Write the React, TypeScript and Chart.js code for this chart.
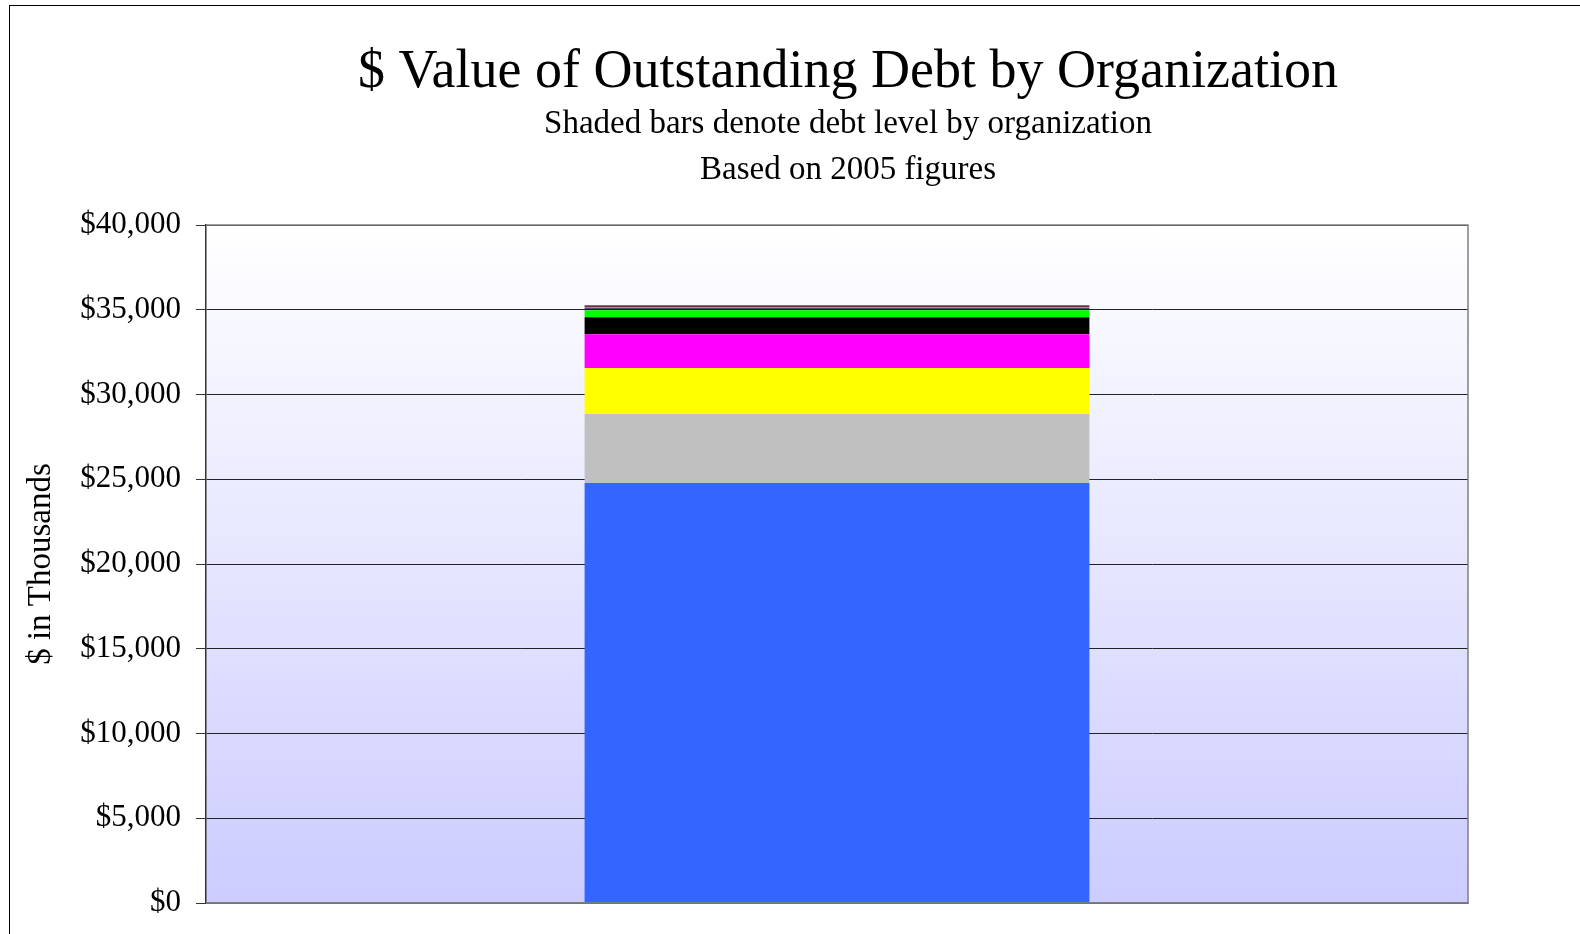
import React, { useEffect, useRef } from "react";
import { Chart, registerables } from "chart.js";

Chart.register(...registerables);

const categories = [""];
const seriesNames = ["Org A", "Org B", "Org C", "Org D", "Org E", "Org F", "Org G", "Org H", "Org I"];
const seriesValues = [24780, 4070, 2710, 2000, 1000, 410, 120, 50, 120];
const seriesColors = ["#3366FF", "#C0C0C0", "#FFFF00", "#FF00FF", "#000000", "#00FF00", "#1A1A40", "#CC6699", "#663355"];
const yTicks = [0, 5000, 10000, 15000, 20000, 25000, 30000, 35000, 40000];
const titleText = "$ Value of Outstanding Debt by Organization";
const subtitleLines = ["Shaded bars denote debt level by organization", "Based on 2005 figures"];

const FONT = "'Liberation Serif', 'Times New Roman', serif";

const bgPlugin = {
  id: "plotBg",
  beforeDraw(chart: any) {
    const { ctx, chartArea } = chart;
    if (!chartArea) return;
    const g = ctx.createLinearGradient(0, chartArea.top, 0, chartArea.bottom);
    g.addColorStop(0, "#FFFFFF");
    g.addColorStop(1, "#CCCCFF");
    ctx.save();
    ctx.fillStyle = g;
    ctx.fillRect(chartArea.left, chartArea.top, chartArea.right - chartArea.left, chartArea.bottom - chartArea.top);
    ctx.restore();
  },
  afterDraw(chart: any) {
    const { ctx, chartArea } = chart;
    ctx.save();
    ctx.strokeStyle = "#808080";
    ctx.lineWidth = 1.5;
    ctx.beginPath();
    ctx.moveTo(chartArea.left, chartArea.top);
    ctx.lineTo(chartArea.right, chartArea.top);
    ctx.lineTo(chartArea.right, chartArea.bottom);
    ctx.lineTo(chartArea.left, chartArea.bottom);
    ctx.stroke();

    // titles, centred over the whole chart frame
    const cx = (chartArea.left + chartArea.right) / 2 + 11;
    ctx.fillStyle = "#000";
    ctx.textAlign = "center";
    ctx.textBaseline = "alphabetic";
    ctx.font = `54px ${FONT}`;
    ctx.fillText(titleText, cx, 86.5);
    ctx.font = `33px ${FONT}`;
    ctx.fillText(subtitleLines[0], cx, 133);
    ctx.fillText(subtitleLines[1], cx, 179);
    ctx.restore();
  },
};

export default function App() {
  const ref = useRef<HTMLCanvasElement | null>(null);
  useEffect(() => {
    if (!ref.current) return;
    const chart = new Chart(ref.current, {
      type: "bar",
      data: {
        labels: categories,
        datasets: seriesNames.map((name, i) => ({
          label: name,
          data: [seriesValues[i]],
          backgroundColor: seriesColors[i],
          borderWidth: 0,
          barPercentage: 0.4,
          categoryPercentage: 1,
        })),
      },
      options: {
        animation: false,
        responsive: false,
        maintainAspectRatio: false,
        layout: { padding: { left: 0, right: 112, top: 225, bottom: 31 } },
        plugins: {
          legend: { display: false },
          tooltip: { enabled: false },
          title: { display: false },
        },
        scales: {
          x: {
            stacked: true,
            ticks: { display: false },
            grid: { display: false },
            border: { display: true, color: "#808080", width: 1.5 },
            afterFit(scale: any) {
              scale.height = 0;
              scale.paddingLeft = 0;
              scale.paddingRight = 0;
            },
          },
          y: {
            stacked: true,
            min: 0,
            max: 40000,
            afterFit(scale: any) {
              scale.width = 206;
              scale.paddingTop = 0;
              scale.paddingBottom = 0;
            },
            afterBuildTicks(scale: any) {
              scale.ticks = yTicks.map((v) => ({ value: v }));
            },
            ticks: {
              color: "#000",
              padding: 15,
              font: { family: FONT, size: 31 },
              callback: (v: any) => "$" + Number(v).toLocaleString("en-US"),
            },
            grid: {
              color: "#222",
              lineWidth: 1,
              tickLength: 10,
              drawTicks: true,
              tickColor: "#333",
            },
            border: { display: true, color: "#333", width: 1.5 },
            title: {
              display: true,
              text: "$ in Thousands",
              color: "#000",
              font: { family: FONT, size: 33 },
              padding: { top: 22, bottom: 0 },
            },
          },
        },
      },
      plugins: [bgPlugin],
    });
    return () => chart.destroy();
  }, []);
  return (
    <div style={{ position: "fixed", left: 0, top: 0, width: 1580, height: 934, background: "#fff", overflow: "hidden" }}>
      <canvas ref={ref} width={1580} height={934} style={{ position: "absolute", left: 0, top: 0 }} />
      <div
        style={{
          position: "absolute",
          left: 9,
          top: 5,
          width: 1700,
          height: 1100,
          border: "1.5px solid #000",
          pointerEvents: "none",
        }}
      />
    </div>
  );
}
